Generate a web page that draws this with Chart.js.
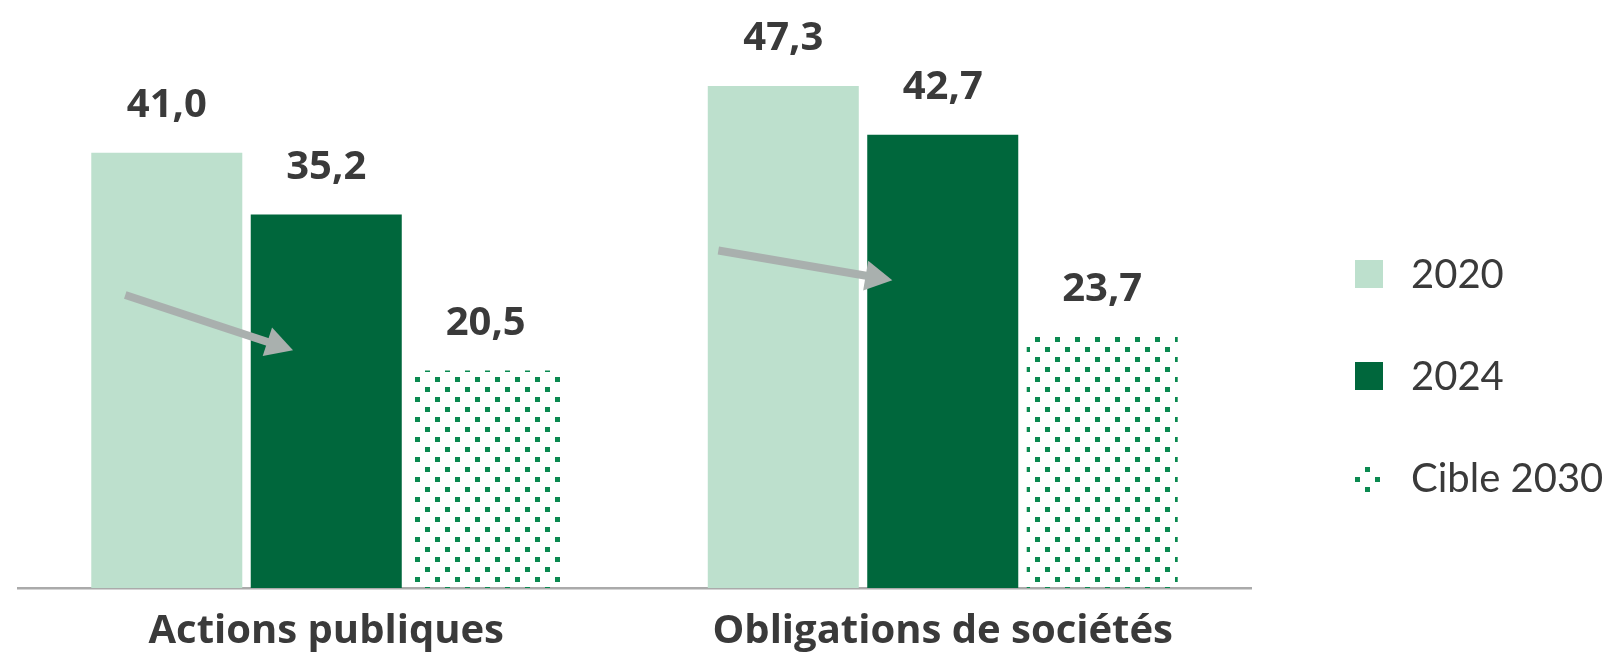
<!DOCTYPE html>
<html>
<head>
<meta charset="utf-8">
<script src="https://cdn.jsdelivr.net/npm/chart.js@4.4.1/dist/chart.umd.min.js"></script>
<style>
  html, body { margin: 0; padding: 0; background: #ffffff; }
  #wrap { width: 1624px; height: 655px; }
</style>
</head>
<body>
<div id="wrap"><canvas id="chart" width="1624" height="655"></canvas></div>
<script>
// Categories and series
const categories = ["Actions publiques", "Obligations de sociétés"];
const seriesNames = ["2020", "2024", "Cible 2030"];
const values2020 = [41.0, 47.3];
const values2024 = [35.2, 42.7];
const valuesCible = [20.5, 23.7];

// Grey trend arrows: value at the start (over the 2020 bar) and at the tip (over the 2024 bar)
const arrowStart = [27.6, 31.8];
const arrowEnd = [22.4, 29.0];

const TEXT_COLOR = "#3a3a3a";
const LIGHT_GREEN = "#bde0cd";
const DARK_GREEN = "#00673c";
const DOT_GREEN = "#0b8a50";
const ARROW_GREY = "#a9b0ae";
const LABEL_FONT = "'Open Sans', Lato, sans-serif";

// Dotted fill for the 2030 target
function makeDotPattern() {
  const tile = document.createElement("canvas");
  tile.width = 20;
  tile.height = 20;
  const t = tile.getContext("2d");
  t.fillStyle = DOT_GREEN;
  t.fillRect(15, 17, 5, 5);
  t.fillRect(5, 7, 5, 5);
  t.fillRect(15, -3, 5, 5);
  return t.canvas;
}
const ctx = document.getElementById("chart").getContext("2d");
const dotPattern = ctx.createPattern(makeDotPattern(), "repeat");

const fmt = v => v.toFixed(1).replace(".", ",");

// Value labels above each bar
const valueLabels = {
  id: "valueLabels",
  afterDatasetsDraw(chart) {
    const c = chart.ctx;
    c.save();
    c.font = "bold 40px " + LABEL_FONT;
    c.fillStyle = TEXT_COLOR;
    c.textAlign = "center";
    c.textBaseline = "middle";
    chart.data.datasets.forEach((ds, i) => {
      chart.getDatasetMeta(i).data.forEach((bar, j) => {
        c.fillText(fmt(ds.data[j]), bar.x, bar.y - 47);
      });
    });
    c.restore();
  }
};

// Trend arrows from the 2020 bar into the 2024 bar
const trendArrows = {
  id: "trendArrows",
  afterDatasetsDraw(chart) {
    const c = chart.ctx;
    const y = chart.scales.y;
    const bars20 = chart.getDatasetMeta(0).data;
    const bars24 = chart.getDatasetMeta(1).data;
    const startFrac = [0.225, 0.07];
    const endFrac = [0.28, 0.166];
    c.save();
    categories.forEach((cat, j) => {
      const b0 = bars20[j], b1 = bars24[j];
      const x0 = b0.x - b0.width / 2 + b0.width * startFrac[j];
      const x1 = b1.x - b1.width / 2 + b1.width * endFrac[j];
      const y0 = y.getPixelForValue(arrowStart[j]);
      const y1 = y.getPixelForValue(arrowEnd[j]);
      const ang = Math.atan2(y1 - y0, x1 - x0);
      const headLen = 27, headHalf = 15;
      const bx = x1 - headLen * Math.cos(ang);
      const by = y1 - headLen * Math.sin(ang);
      c.strokeStyle = ARROW_GREY;
      c.lineWidth = 8;
      c.lineCap = "butt";
      c.beginPath();
      c.moveTo(x0, y0);
      c.lineTo(bx + 2 * Math.cos(ang), by + 2 * Math.sin(ang));
      c.stroke();
      c.fillStyle = ARROW_GREY;
      c.beginPath();
      c.moveTo(x1, y1);
      c.lineTo(bx - headHalf * Math.sin(ang), by + headHalf * Math.cos(ang));
      c.lineTo(bx + headHalf * Math.sin(ang), by - headHalf * Math.cos(ang));
      c.closePath();
      c.fill();
    });
    c.restore();
  }
};

// Legend on the right
const sideLegend = {
  id: "sideLegend",
  afterDraw(chart) {
    const c = chart.ctx;
    const left = 1355, box = 28, rowGap = 102, firstRow = 274;
    c.save();
    c.font = "40px Lato";
    c.textBaseline = "middle";
    c.textAlign = "left";
    chart.data.datasets.forEach((ds, i) => {
      const cy = firstRow + i * rowGap;
      c.fillStyle = ds.backgroundColor;
      c.fillRect(left, cy - box / 2, box, box);
      c.fillStyle = TEXT_COLOR;
      c.fillText(ds.label, left + 56, cy + 1);
    });
    c.restore();
  }
};

new Chart(ctx, {
  type: "bar",
  data: {
    labels: categories,
    datasets: [
      { label: seriesNames[0], data: values2020, backgroundColor: LIGHT_GREEN },
      { label: seriesNames[1], data: values2024, backgroundColor: DARK_GREEN },
      { label: seriesNames[2], data: valuesCible, backgroundColor: dotPattern }
    ]
  },
  options: {
    responsive: false,
    animation: false,
    events: [],
    categoryPercentage: 0.776,
    barPercentage: 0.947,
    layout: { padding: { left: 18, right: 373, top: 0, bottom: -13 } },
    scales: {
      x: {
        grid: { display: false },
        border: { display: true, color: "#aaaaaa", width: 2.5 },
        ticks: { color: TEXT_COLOR, font: { family: LABEL_FONT, size: 40, weight: "bold" }, padding: 12 }
      },
      y: { display: false, min: 0, max: 55.4 }
    },
    plugins: { legend: { display: false }, tooltip: { enabled: false } }
  },
  plugins: [trendArrows, valueLabels, sideLegend]
});
</script>
</body>
</html>
